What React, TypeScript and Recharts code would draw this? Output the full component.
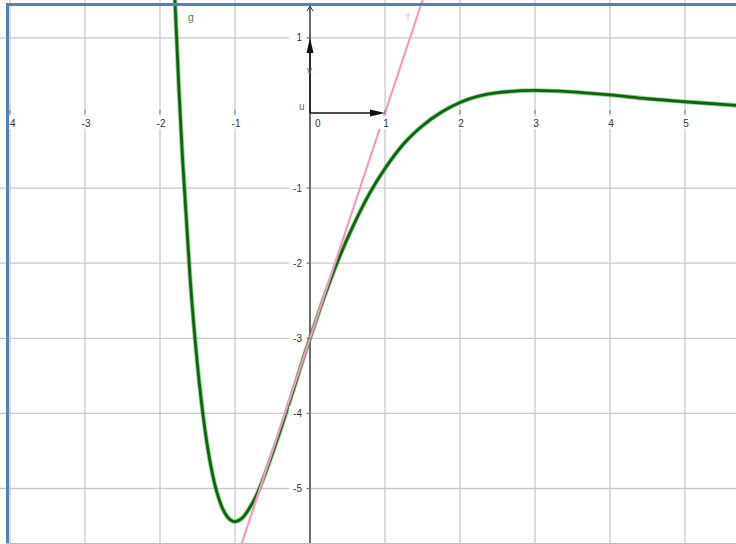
import * as React from 'react';
import { LineChart, Line, XAxis, YAxis, ReferenceLine, ReferenceDot } from 'recharts';

// grid / tick values
const xTicks = [-4, -3, -2, -1, 1, 2, 3, 4, 5];
const yTicks = [1, -1, -2, -3, -4, -5];
const gridX = [-4, -3, -2, -1, 1, 2, 3, 4, 5];
const gridY = [1, -1, -2, -3, -4, -5];

// curve g
const gX = [-1.82, -1.75, -1.7, -1.6, -1.5, -1.4, -1.3, -1.2, -1.1, -1.0, -0.9, -0.8, -0.7, -0.6, -0.5, -0.4, -0.3, -0.2, -0.1, 0, 0.2, 0.4, 0.6, 0.8, 1.0, 1.25, 1.5, 1.75, 2.0, 2.5, 3.0, 3.5, 4.0, 4.5, 5.0, 5.7];
const gY = [1.93, 0.36, -0.6, -2.18, -3.36, -4.22, -4.81, -5.18, -5.38, -5.44, -5.39, -5.25, -5.06, -4.81, -4.53, -4.24, -3.93, -3.62, -3.3, -3.0, -2.42, -1.9, -1.45, -1.06, -0.74, -0.41, -0.17, 0.01, 0.14, 0.27, 0.3, 0.28, 0.24, 0.19, 0.15, 0.1];

// tangent line f
const fX = [-1, 1.6];
const fY = [-6, 1.8];

// vectors u and v from the origin
const uEnd = [1, 0];
const vEnd = [0, 1];

const gData = gX.map((x, i) => ({ x, y: gY[i] }));
const fData = fX.map((x, i) => ({ x, y: fY[i] }));

const W = 736;
const H = 544;
const X_DOMAIN = [-310 / 75, 426 / 75];
const Y_DOMAIN = [-(544 - 113) / 75.1, 113 / 75.1];

const FONT = '"Liberation Sans", Arial, sans-serif';
const GRID = '#c9c9c9';
const AXIS = '#3a3a3a';

const XTick = ({ cx, cy, v }: any) => (
  <g>
    <rect x={cx - 9} y={cy + 3} width={19} height={13} fill="#fff" />
    <line x1={cx} x2={cx} y1={cy - 3} y2={cy + 1} stroke="#777" strokeWidth={1} />
    <text x={cx + 1} y={cy + 14} textAnchor="middle" fontSize={10} fontFamily={FONT} fill="#333">
      {v}
    </text>
  </g>
);

const YTick = ({ cx, cy, v }: any) => (
  <g>
    <rect x={cx - 21} y={cy - 7} width={17} height={14} fill="#fff" />
    <line x1={cx - 3} x2={cx + 1} y1={cy} y2={cy} stroke="#777" strokeWidth={1} />
    <text x={cx - 8} y={cy + 3.5} textAnchor="end" fontSize={10} fontFamily={FONT} fill="#333">
      {v}
    </text>
  </g>
);

const YAxisShape = ({ x1, y1, x2, y2 }: any) => {
  const top = Math.min(y1, y2);
  const bottom = Math.max(y1, y2);
  return (
    <g>
      <line x1={x1} x2={x1} y1={top + 5} y2={bottom} stroke={AXIS} strokeWidth={1.5} />
      <polyline points={`${x1 - 3},${top + 11} ${x1},${top + 6} ${x1 + 3},${top + 11}`} fill="none" stroke={AXIS} strokeWidth={1} />
    </g>
  );
};

const Vector = ({ x1, y1, x2, y2, name, lx, ly }: any) => {
  const dx = x2 - x1;
  const dy = y2 - y1;
  const len = Math.sqrt(dx * dx + dy * dy) || 1;
  const ux = dx / len;
  const uy = dy / len;
  const head = 15;
  const half = 3.5;
  const bx = x2 - ux * head;
  const by = y2 - uy * head;
  const pts = `${x2},${y2} ${bx - uy * half},${by + ux * half} ${bx + uy * half},${by - ux * half}`;
  return (
    <g>
      <line x1={x1} y1={y1} x2={bx} y2={by} stroke="#111" strokeWidth={1.4} />
      <polygon points={pts} fill="#111" />
      <text x={x1 + lx} y={y1 + ly} fontSize={10} fontFamily={FONT} fill="#666">
        {name}
      </text>
    </g>
  );
};

export default function App() {
  return (
    <div style={{ position: 'absolute', left: 0, top: 0, width: W, height: H, background: '#fff' }}>
      <LineChart width={W} height={H} margin={{ top: 0, right: 0, bottom: 0, left: 0 }}>
        <XAxis type="number" dataKey="x" domain={X_DOMAIN} allowDataOverflow hide />
        <YAxis type="number" dataKey="y" domain={Y_DOMAIN} allowDataOverflow hide />

        {gridX.map((v) => (
          <ReferenceLine key={`gx${v}`} x={v} stroke={GRID} strokeWidth={1.3} />
        ))}
        {gridY.map((v) => (
          <ReferenceLine key={`gy${v}`} y={v} stroke={GRID} strokeWidth={1.3} />
        ))}

        {xTicks.map((v) => (
          <ReferenceDot key={`xt${v}`} x={v} y={0} r={0} shape={(p: any) => <XTick {...p} v={v} />} />
        ))}
        {yTicks.map((v) => (
          <ReferenceDot key={`yt${v}`} x={0} y={v} r={0} shape={(p: any) => <YTick {...p} v={v} />} />
        ))}
        <ReferenceDot
          x={0}
          y={0}
          r={0}
          shape={(p: any) => (
            <text x={p.cx + 5} y={p.cy + 14} fontSize={10} fontFamily={FONT} fill="#333">
              0
            </text>
          )}
        />

        <ReferenceLine
          segment={[{ x: 0, y: Y_DOMAIN[0] }, { x: 0, y: Y_DOMAIN[1] }]}
          shape={(p: any) => <YAxisShape {...p} />}
        />

        <Line data={gData} dataKey="y" type="monotone" stroke="#4a9e4a" strokeWidth={4.6} strokeOpacity={0.55} dot={false} isAnimationActive={false} />
        <Line data={gData} dataKey="y" type="monotone" stroke="#0b650b" strokeWidth={2.8} dot={false} isAnimationActive={false} />
        <Line data={fData} dataKey="y" type="linear" stroke="#f19cc2" strokeWidth={2.2} dot={false} isAnimationActive={false} />

        <ReferenceLine
          segment={[{ x: 0, y: 0 }, { x: uEnd[0], y: uEnd[1] }]}
          shape={(p: any) => <Vector {...p} name="u" lx={-11} ly={-3} />}
        />
        <ReferenceLine
          segment={[{ x: 0, y: 0 }, { x: vEnd[0], y: vEnd[1] }]}
          shape={(p: any) => <Vector {...p} name="v" lx={-3} ly={-39} />}
        />

        <ReferenceDot
          x={-1.63}
          y={1.28}
          r={0}
          shape={(p: any) => (
            <text x={p.cx} y={p.cy + 4} fontSize={11} fontFamily={FONT} fill="#3f8f3f">
              g
            </text>
          )}
        />
        <ReferenceDot
          x={1.29}
          y={1.28}
          r={0}
          shape={(p: any) => (
            <text x={p.cx} y={p.cy + 4} fontSize={10} fontFamily={FONT} fill="#f3b5cf">
              f
            </text>
          )}
        />
      </LineChart>
      <div style={{ position: 'absolute', left: 6, top: 3, width: 3, height: H - 3, background: '#4f81bd' }} />
      <div style={{ position: 'absolute', left: 6, top: 3, width: W - 6, height: 3, background: '#4f81bd' }} />
      <div style={{ position: 'absolute', left: 6, top: H - 1, width: W - 6, height: 1, background: '#a9bfe0' }} />
    </div>
  );
}
